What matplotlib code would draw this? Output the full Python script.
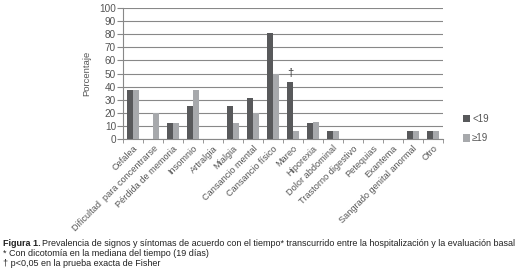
import matplotlib.pyplot as plt
import numpy as np

plt.rcParams['font.family'] = ['Liberation Sans', 'DejaVu Sans']

categorias = ["Cefalea", "Dificultad  para concentrarse", "Pérdida de memoria", "Insomnio",
              "Artralgia", "Mialgia", "Cansancio mental", "Cansancio físico", "Mareo",
              "Hiporexia", "Dolor abdominal", "Trastorno digestivo", "Petequias",
              "Exantema", "Sangrado genital anormal", "Otro"]
menor19 = [37.5, 0, 12.5, 25, 0, 25, 31.3, 81.3, 43.8, 12.5, 6.3, 0, 0, 0, 6.3, 6.3]
mayor19 = [37.5, 20, 12.5, 37.5, 0, 12.5, 20, 50, 6.3, 13.3, 6.3, 0, 0, 0, 6.3, 6.3]

gris_txt = '#555555'
fig = plt.figure(figsize=(5.26, 2.71), dpi=100)
ax = fig.add_axes([0.234, 0.487, 0.608, 0.483])

x = np.arange(len(categorias))
w = 0.3
ax.bar(x - w/2, menor19, w, color='#58595b', label='<19', zorder=3)
ax.bar(x + w/2, mayor19, w, color='#a7a9ac', label='≥19', zorder=3)

# marca de significancia sobre Mareo
ax.text(x[8] - w/2, menor19[8] + 3, '†', ha='center', va='bottom', fontsize=8, color='#333333')

ax.set_xlim(-0.5, len(categorias) - 0.5)
ax.set_ylim(0, 100)
ax.set_yticks(range(0, 101, 10))
ax.yaxis.grid(True, color='#888888', linewidth=0.8, zorder=0)
ax.set_xticks(x)
ax.set_xticks(np.arange(len(categorias) + 1) - 0.5, minor=True)
ax.set_xticklabels(categorias, rotation=45, ha='right', rotation_mode='anchor', fontsize=6.6, color=gris_txt)
ax.tick_params(axis='y', labelsize=7.2, colors=gris_txt, length=4, pad=1, color='#888888')
ax.tick_params(axis='x', which='major', length=0, pad=3.5)
ax.tick_params(axis='x', which='minor', length=3, color='#888888')
ax.set_ylabel('Porcentaje', fontsize=6.8, color=gris_txt, labelpad=6)
for s in ['top', 'right']:
    ax.spines[s].set_visible(False)
ax.spines['left'].set_color('#888888')
ax.spines['bottom'].set_color('#888888')

ax.legend(loc='center left', bbox_to_anchor=(1.035, 0.08), frameon=False, fontsize=7,
          handlelength=0.75, handleheight=0.75, labelspacing=1.0, handletextpad=0.2,
          labelcolor=gris_txt)

fs = 6.45
y1 = 1 - 243/271
t1 = fig.text(0.006, y1, 'Figura 1.', fontsize=fs, fontweight='bold', va='center', color='#222222')
fig.canvas.draw()
bb = t1.get_window_extent().transformed(fig.transFigure.inverted())
fig.text(bb.x1 + 0.003, y1,
         'Prevalencia de signos y síntomas de acuerdo con el tiempo* transcurrido entre la hospitalización y la evaluación basal',
         fontsize=fs, va='center', color='#222222')
fig.text(0.006, 1 - 253/271, '* Con dicotomía en la mediana del tiempo (19 días)', fontsize=fs, va='center', color='#222222')
fig.text(0.006, 1 - 263/271, '† p<0,05 en la prueba exacta de Fisher', fontsize=fs, va='center', color='#222222')

plt.savefig('out.png', dpi=100)
